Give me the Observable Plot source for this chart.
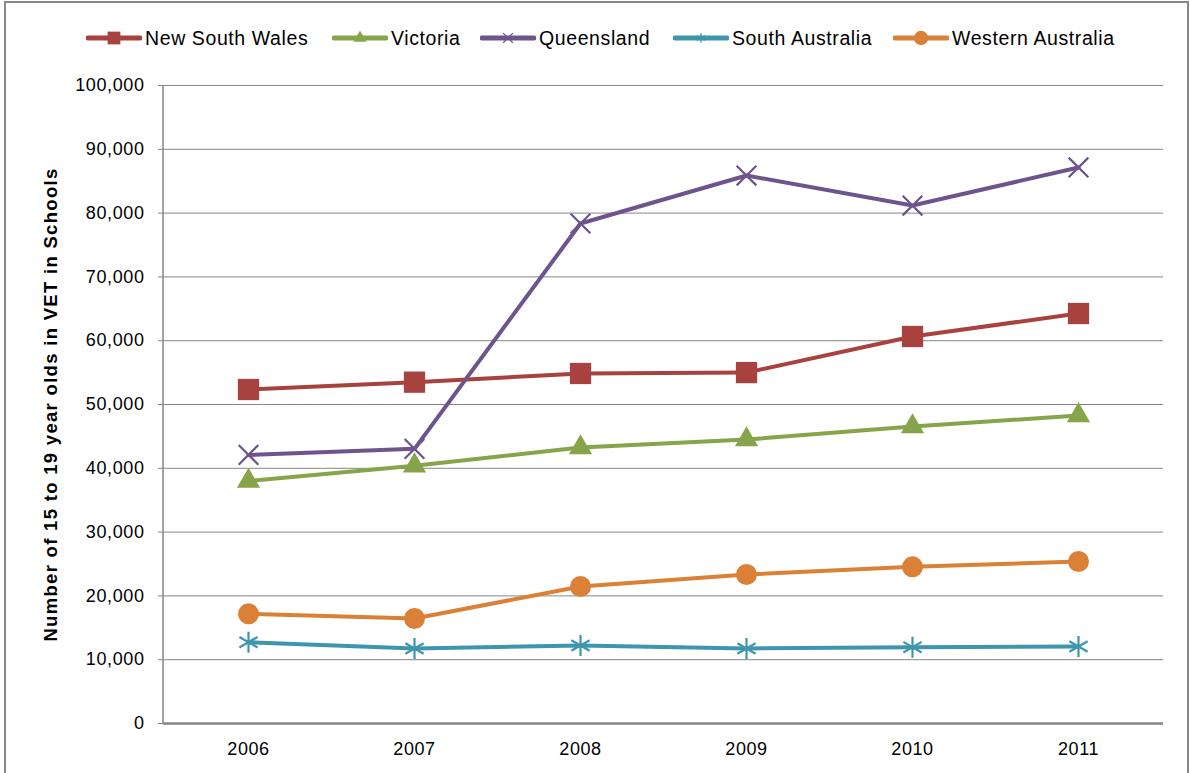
<!DOCTYPE html>
<html>
<head>
<meta charset="utf-8">
<script src="https://cdn.jsdelivr.net/npm/d3@7"></script>
<script src="https://cdn.jsdelivr.net/npm/@observablehq/plot@0.6"></script>
<style>
  html, body { margin: 0; padding: 0; background: #fff; width: 1190px; height: 773px; overflow: hidden; }
  body { position: relative; font-family: "Liberation Sans", Arial, sans-serif; }
  #frame { position: absolute; left: 4px; top: 1px; width: 1185px; height: 820px; box-sizing: border-box;
           border: 2px solid #888; pointer-events: none; }
  #legend { position: absolute; left: 0; top: 0; width: 1190px; height: 70px; }
  .item { position: absolute; top: 26px; height: 24px; display: flex; align-items: center;
          font-size: 19.5px; letter-spacing: 0.6px; color: #000; white-space: nowrap; }
  .item svg { display: block; margin-right: 3px; }
  #chart { position: absolute; left: 0; top: 70px; }
</style>
</head>
<body>
<div id="legend"></div>
<div id="chart"></div>
<div id="frame"></div>
<script>
// ---- data ----
const years = ["2006", "2007", "2008", "2009", "2010", "2011"];
const seriesNames = ["New South Wales", "Victoria", "Queensland", "South Australia", "Western Australia"];
const nsw = [52350, 53500, 54860, 55000, 60660, 64260];
const vic = [38000, 40400, 43260, 44510, 46550, 48280];
const qld = [42100, 43050, 78370, 85890, 81190, 87150];
const sa  = [12740, 11760, 12230, 11760, 11960, 12070];
const wa  = [17190, 16460, 21470, 23350, 24550, 25390];
const yTicks = [0, 10000, 20000, 30000, 40000, 50000, 60000, 70000, 80000, 90000, 100000];
const yLabel = "Number of 15 to 19 year olds in VET in Schools";

// ---- styles ----
const colors = ["#A8423F", "#86A44A", "#6E548D", "#3D96AE", "#DA8137"];
const symbols = ["square", "triangle", "times", "asterisk", "circle"];
const symRadius = [12, 8.6, 9, 10, 10.5];
const filled = [true, true, false, false, true];
const legendLeft = [86, 332, 480, 673, 893];

const valuesBySeries = [nsw, vic, qld, sa, wa];
const table = seriesNames.map((name, s) =>
  years.map((yr, i) => ({series: name, year: yr, value: valuesBySeries[s][i]}))
);

const marks = [
  Plot.gridY(yTicks, {stroke: "#868686", strokeOpacity: 1, strokeWidth: 1}),
  Plot.axisY(yTicks, {tickSize: 5, tickPadding: 14, stroke: "#868686", strokeOpacity: 1,
    tickFormat: d3.format(","), label: null, fill: "#000"}),
  Plot.axisX({tickSize: 0, tickPadding: 19, label: null, fill: "#000"}),
  Plot.ruleY([0], {stroke: "#868686", strokeWidth: 2.5}),
  (index, scales, values, dims) => {
    const l = document.createElementNS("http://www.w3.org/2000/svg", "line");
    const x0 = dims.marginLeft;
    l.setAttribute("x1", x0); l.setAttribute("x2", x0);
    l.setAttribute("y1", scales.y(100000)); l.setAttribute("y2", scales.y(0));
    l.setAttribute("stroke", "#868686"); l.setAttribute("stroke-width", 1.5);
    return l;
  },
  Plot.text([yLabel], {frameAnchor: "left", textAnchor: "middle", rotate: -90, dx: -112,
    fontWeight: "bold", fontSize: 18.5, fill: "#000"})
];

table.forEach((rows, s) => {
  marks.push(Plot.line(rows, {x: "year", y: "value", stroke: colors[s], strokeWidth: 4,
    strokeLinejoin: "round", strokeLinecap: "round"}));
});
table.forEach((rows, s) => {
  const opts = {x: "year", y: "value", symbol: symbols[s], r: symRadius[s]};
  if (filled[s]) { opts.fill = colors[s]; opts.stroke = "none"; }
  else { opts.fill = "none"; opts.stroke = colors[s]; opts.strokeWidth = 2.2; }
  marks.push(Plot.dot(rows, opts));
});

const chart = Plot.plot({
  width: 1190,
  height: 703,
  marginTop: 15,
  marginBottom: 50,
  marginLeft: 163,
  marginRight: 27,
  style: {fontFamily: "'Liberation Sans', Arial, sans-serif", fontSize: "18px", background: "transparent", color: "#000", letterSpacing: "0.6px"},
  x: {type: "point", domain: years, padding: 0.5},
  y: {domain: [0, 100000]},
  marks
});
document.getElementById("chart").appendChild(chart);
// wider tracking for the rotated axis title, as in the reference
d3.select(chart).selectAll("text").filter(function() { return this.textContent === yLabel; })
  .style("letter-spacing", "1.3px");

// ---- legend ----
const legend = d3.select("#legend");
const legSym = [12, 8, 7.5, 7.5, 12];
seriesNames.forEach((name, s) => {
  const item = legend.append("div").attr("class", "item").style("left", legendLeft[s] + "px");
  const svg = item.append("svg").attr("width", 56).attr("height", 20);
  svg.append("line").attr("x1", 2).attr("x2", 54).attr("y1", 10).attr("y2", 10)
    .attr("stroke", colors[s]).attr("stroke-width", 5).attr("stroke-linecap", "round");
  const symMap = {square: d3.symbolSquare, triangle: d3.symbolTriangle, times: d3.symbolTimes,
                  asterisk: d3.symbolAsterisk, circle: d3.symbolCircle};
  const size = Math.PI * Math.pow(legSym[s] * 0.6, 2);
  const p = svg.append("path").attr("transform", "translate(28,10)")
    .attr("d", d3.symbol(symMap[symbols[s]], size)());
  if (filled[s]) p.attr("fill", colors[s]);
  else p.attr("fill", "none").attr("stroke", colors[s]).attr("stroke-width", 1.3);
  item.append("span").text(name);
});
</script>
</body>
</html>
